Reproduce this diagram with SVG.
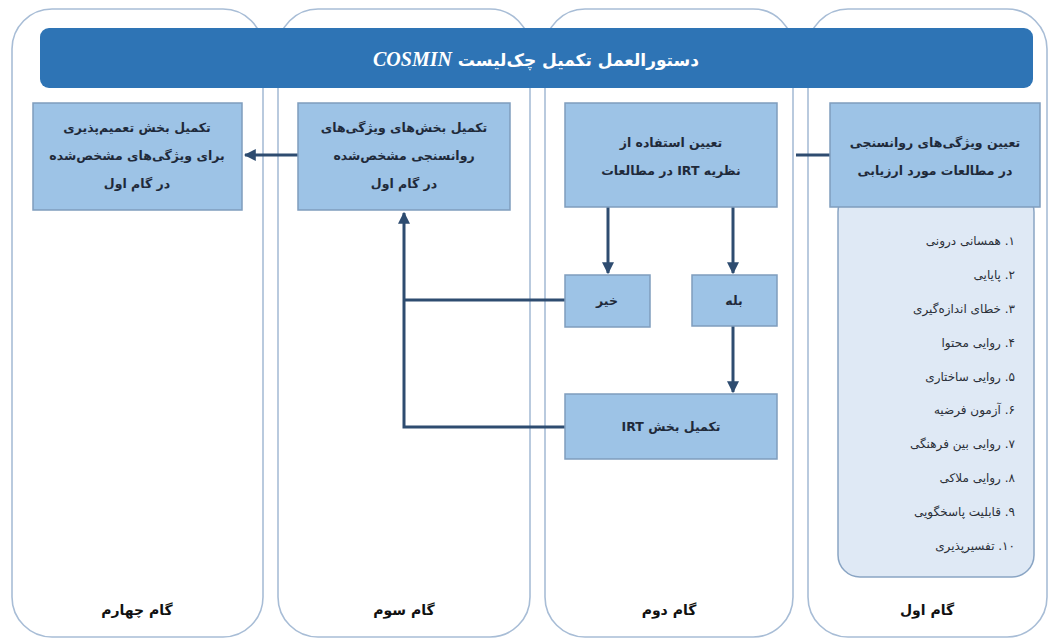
<svg xmlns="http://www.w3.org/2000/svg" width="1053" height="640" viewBox="0 0 1053 640">
<style>
.col{fill:#ffffff;stroke:#a8bdd6;stroke-width:1.6}
.box{fill:#9dc3e6;stroke:#7f9dbd;stroke-width:1.5}
.panel{fill:#dfe9f5;stroke:#8aa5c4;stroke-width:1.5}
.t{font-family:"DejaVu Sans",sans-serif;font-weight:bold;font-size:12.5px;fill:#1f2a3a}
.li{font-family:"DejaVu Sans",sans-serif;font-size:12px;fill:#2a2f38}
.ft{font-family:"DejaVu Sans",sans-serif;font-weight:bold;font-size:14px;fill:#111}
.hd{font-family:"DejaVu Sans",sans-serif;font-weight:bold;font-size:17px;fill:#ffffff}
.lat{font-family:"Liberation Serif",serif;font-style:italic;font-weight:bold;font-size:20px}
.cn{fill:none;stroke:#2e4c70;stroke-width:3}
</style>
<defs>
<marker id="ah" viewBox="0 0 10 10" refX="9" refY="5" markerWidth="4" markerHeight="4" orient="auto" markerUnits="strokeWidth">
<path d="M0,0 L10,5 L0,10 z" fill="#2e4c70"/>
</marker>
</defs>
<rect width="1053" height="640" fill="#ffffff"/>
<g id="columns">
<rect class="col" x="12" y="9" width="251" height="628" rx="40"/>
<rect class="col" x="278" y="9" width="252" height="628" rx="40"/>
<rect class="col" x="545" y="9" width="248" height="628" rx="40"/>
<rect class="col" x="808" y="9" width="239" height="628" rx="40"/>
</g>
<g id="header">
<rect x="40" y="28" width="993" height="60" rx="9" fill="#2e74b5"/>
<text class="hd" x="536" y="66" text-anchor="middle" direction="rtl">دستورالعمل تکمیل چک‌لیست <tspan class="lat">COSMIN</tspan></text>
</g>
<g id="connectors">
<line class="cn" x1="796" y1="155" x2="830" y2="155"/>
<line class="cn" x1="298" y1="155" x2="245" y2="155" marker-end="url(#ah)"/>
<line class="cn" x1="608" y1="207" x2="608" y2="273" marker-end="url(#ah)"/>
<line class="cn" x1="733" y1="207" x2="733" y2="273" marker-end="url(#ah)"/>
<line class="cn" x1="733" y1="326" x2="733" y2="392" marker-end="url(#ah)"/>
<polyline class="cn" points="565,300 404,300"/>
<polyline class="cn" points="565,427 404,427 404,213" marker-end="url(#ah)"/>
</g>
<g id="step1">
<rect class="panel" x="838" y="190" width="196" height="387" rx="22"/>
<rect class="box" x="830" y="103" width="210" height="104"/>
<text class="t" x="935" y="147" text-anchor="middle" direction="rtl">تعیین ویژگی‌های روانسنجی</text>
<text class="t" x="935" y="175" text-anchor="middle" direction="rtl">در مطالعات مورد ارزیابی</text>
<g id="list">
<text class="li" x="1015" y="245" text-anchor="start" direction="rtl">۱. همسانی درونی</text>
<text class="li" x="1015" y="279" text-anchor="start" direction="rtl">۲. پایایی</text>
<text class="li" x="1015" y="313" text-anchor="start" direction="rtl">۳. خطای اندازه‌گیری</text>
<text class="li" x="1015" y="347" text-anchor="start" direction="rtl">۴. روایی محتوا</text>
<text class="li" x="1015" y="381" text-anchor="start" direction="rtl">۵. روایی ساختاری</text>
<text class="li" x="1015" y="414" text-anchor="start" direction="rtl">۶. آزمون فرضیه</text>
<text class="li" x="1015" y="448" text-anchor="start" direction="rtl">۷. روایی بین فرهنگی</text>
<text class="li" x="1015" y="482" text-anchor="start" direction="rtl">۸. روایی ملاکی</text>
<text class="li" x="1015" y="516" text-anchor="start" direction="rtl">۹. قابلیت پاسخگویی</text>
<text class="li" x="1015" y="550" text-anchor="start" direction="rtl">۱۰. تفسیرپذیری</text>
</g>
</g>
<g id="step2-irt">
<rect class="box" x="565" y="103" width="212" height="104"/>
<text class="t" x="671" y="147" text-anchor="middle" direction="rtl">تعیین استفاده از</text>
<text class="t" x="671" y="175" text-anchor="middle" direction="rtl">نظریه IRT در مطالعات</text>
</g>
<g id="step2-yes">
<rect class="box" x="692" y="275" width="85" height="51"/>
<text class="t" x="734" y="305" text-anchor="middle" direction="rtl">بله</text>
</g>
<g id="step2-no">
<rect class="box" x="565" y="275" width="85" height="52"/>
<text class="t" x="607" y="305" text-anchor="middle" direction="rtl">خیر</text>
</g>
<g id="step2-complete-irt">
<rect class="box" x="565" y="394" width="212" height="65"/>
<text class="t" x="671" y="431" text-anchor="middle" direction="rtl">تکمیل بخش IRT</text>
</g>
<g id="step3">
<rect class="box" x="298" y="103" width="212" height="107"/>
<text class="t" x="404" y="132" text-anchor="middle" direction="rtl">تکمیل بخش‌های ویژگی‌های</text>
<text class="t" x="404" y="160" text-anchor="middle" direction="rtl">روانسنجی مشخص‌شده</text>
<text class="t" x="404" y="188" text-anchor="middle" direction="rtl">در گام اول</text>
</g>
<g id="step4">
<rect class="box" x="33" y="103" width="209" height="107"/>
<text class="t" x="137" y="132" text-anchor="middle" direction="rtl">تکمیل بخش تعمیم‌پذیری</text>
<text class="t" x="137" y="160" text-anchor="middle" direction="rtl">برای ویژگی‌های مشخص‌شده</text>
<text class="t" x="137" y="188" text-anchor="middle" direction="rtl">در گام اول</text>
</g>
<g id="footers">
<text class="ft" x="137" y="615" text-anchor="middle" direction="rtl">گام چهارم</text>
<text class="ft" x="404" y="615" text-anchor="middle" direction="rtl">گام سوم</text>
<text class="ft" x="669" y="615" text-anchor="middle" direction="rtl">گام دوم</text>
<text class="ft" x="927" y="615" text-anchor="middle" direction="rtl">گام اول</text>
</g>
</svg>
